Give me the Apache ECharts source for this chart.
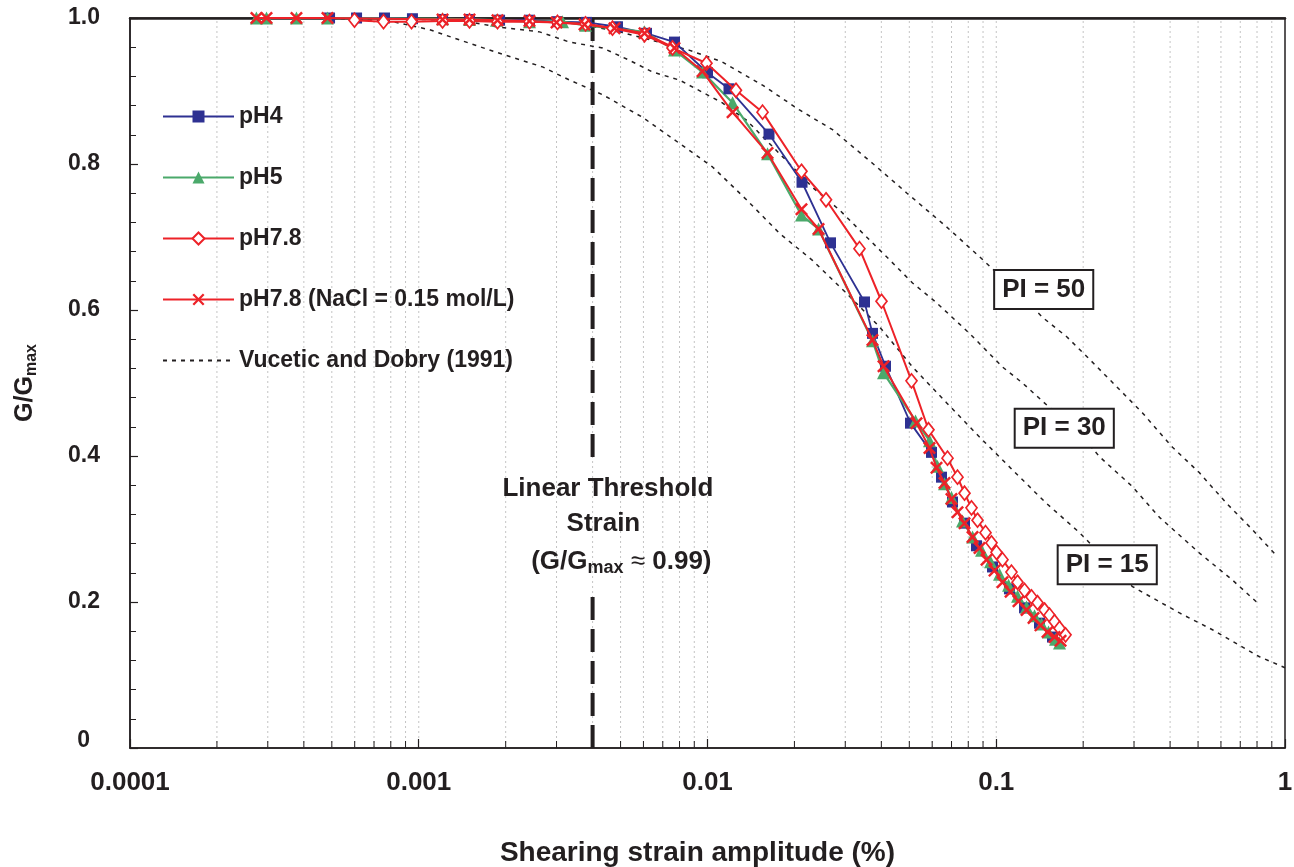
<!DOCTYPE html>
<html><head><meta charset="utf-8">
<script src="https://cdn.jsdelivr.net/npm/echarts@6/dist/echarts.min.js"></script>
<style>html,body{margin:0;padding:0;background:#fff}#c{width:1294px;height:867px}</style>
</head><body><div id="c"></div>
<script>
// ---------- data ----------
const xTickLabels = ['0.0001', '0.001', '0.01', '0.1', '1'];
const yTickLabels = ['0', '0.2', '0.4', '0.6', '0.8', '1.0'];
const seriesNames = ['pH4', 'pH5', 'pH7.8', 'pH7.8 (NaCl = 0.15 mol/L)', 'Vucetic and Dobry (1991)'];
const piLabels = ['PI = 50', 'PI = 30', 'PI = 15'];
const thresholdStrain = 0.004;

// [shear strain amplitude (%), G/Gmax]
const pH4 = [
  [0.000491,1.0],[0.000609,1.0],[0.000761,1.0],[0.000951,0.999],[0.001209,0.998],[0.001499,0.998],
  [0.001905,0.997],[0.002418,0.997],[0.003023,0.995],[0.003811,0.994],[0.004878,0.988],[0.006149,0.979],
  [0.007686,0.967],[0.0100,0.925],[0.01187,0.903],[0.01633,0.841],[0.02125,0.775],[0.02667,0.692],
  [0.03497,0.611],[0.03727,0.568],[0.04135,0.523],[0.05047,0.445],[0.05966,0.405],[0.06461,0.371],
  [0.07055,0.337],[0.07765,0.308],[0.08543,0.277],[0.09705,0.248],[0.1111,0.218],[0.1253,0.192],
  [0.1412,0.171],[0.1566,0.152]
];
const pH5 = [
  [0.000274,1.0],[0.000297,1.0],[0.000377,1.0],[0.000483,1.0],[0.001209,0.999],[0.001499,0.998],
  [0.001859,0.997],[0.002418,0.995],[0.003146,0.995],[0.003781,0.990],[0.006051,0.981],[0.007686,0.956],
  [0.00961,0.926],[0.01221,0.884],[0.01614,0.814],[0.02116,0.730],[0.02424,0.711],[0.03727,0.558],
  [0.0407,0.514],[0.05253,0.448],[0.05872,0.421],[0.06258,0.386],[0.06618,0.362],[0.06998,0.343],
  [0.07641,0.311],[0.08277,0.289],[0.08895,0.271],[0.09552,0.255],[0.1026,0.238],[0.1103,0.223],
  [0.1185,0.208],[0.1273,0.193],[0.1357,0.181],[0.1435,0.170],[0.1517,0.159],[0.1604,0.149],[0.1656,0.144]
];
const pH78 = [
  [0.000599,0.997],[0.000755,0.995],[0.000944,0.995],[0.001209,0.996],[0.001499,0.996],[0.001874,0.995],
  [0.002418,0.995],[0.003023,0.994],[0.003781,0.992],[0.004688,0.986],[0.006051,0.977],[0.007565,0.959],
  [0.00992,0.938],[0.01255,0.901],[0.01551,0.871],[0.02116,0.790],[0.02573,0.751],[0.0336,0.684],
  [0.04005,0.612],[0.05088,0.503],[0.05826,0.436],[0.0678,0.397],[0.07342,0.371],[0.07765,0.349],
  [0.0821,0.329],[0.08613,0.312],[0.0918,0.295],[0.09629,0.281],[0.1002,0.268],[0.1051,0.258],
  [0.1129,0.241],[0.1185,0.227],[0.1253,0.216],[0.1325,0.207],[0.139,0.199],[0.147,0.189],
  [0.1529,0.182],[0.1592,0.173],[0.1656,0.164],[0.1738,0.155]
];
const pH78NaCl = [
  [0.000274,1.0],[0.000297,1.0],[0.000377,1.0],[0.000483,1.0],[0.001209,0.998],[0.001499,0.998],
  [0.001874,0.997],[0.002418,0.996],[0.0030,0.994],[0.00375,0.991],[0.004764,0.986],[0.006051,0.979],
  [0.007686,0.959],[0.00961,0.927],[0.01221,0.871],[0.01614,0.815],[0.02116,0.738],[0.02424,0.711],
  [0.03727,0.559],[0.0407,0.523],[0.05296,0.445],[0.05872,0.411],[0.0621,0.384],[0.06618,0.363],
  [0.06998,0.341],[0.07342,0.323],[0.07765,0.308],[0.08277,0.289],[0.0875,0.274],[0.09254,0.258],
  [0.09863,0.243],[0.1051,0.227],[0.1121,0.214],[0.1194,0.201],[0.1273,0.189],[0.1346,0.178],
  [0.1423,0.168],[0.1505,0.159],[0.1592,0.152],[0.1670,0.147]
];
const vdPI15 = [
  [0.0005,1.0],[0.000811,0.995],[0.00109,0.984],[0.001384,0.970],[0.001859,0.953],[0.002683,0.933],
  [0.003328,0.915],[0.00433,0.895],[0.005955,0.864],[0.00863,0.819],[0.01041,0.796],[0.01365,0.751],
  [0.01776,0.705],[0.0231,0.668],[0.03029,0.623],[0.03941,0.577],[0.05129,0.522],[0.06725,0.473],
  [0.0875,0.426],[0.1138,0.381],[0.1484,0.336],[0.1943,0.295],[0.2964,0.221],[0.4313,0.185],
  [0.5607,0.162],[0.8159,0.125],[1.0,0.11]
];
const vdPI30 = [
  [0.0005,1.0],[0.001006,0.998],[0.001384,0.997],[0.001859,0.988],[0.002619,0.981],[0.003328,0.967],
  [0.00433,0.959],[0.00537,0.942],[0.00645,0.926],[0.0080,0.915],[0.01123,0.884],[0.01365,0.860],
  [0.01819,0.810],[0.0231,0.768],[0.02865,0.737],[0.03639,0.696],[0.04169,0.673],[0.05129,0.637],
  [0.0621,0.610],[0.0808,0.568],[0.1051,0.522],[0.1233,0.500],[0.1523,0.467],[0.1943,0.432],
  [0.2278,0.399],[0.2964,0.358],[0.3676,0.316],[0.5057,0.267],[0.658,0.230],[0.797,0.200]
];
const vdPI50 = [
  [0.0005,1.0],[0.001499,0.998],[0.002418,0.996],[0.003604,0.992],[0.005077,0.980],[0.00863,0.956],
  [0.01123,0.940],[0.01551,0.908],[0.02083,0.874],[0.0271,0.847],[0.03727,0.801],[0.04909,0.760],
  [0.06725,0.714],[0.0875,0.673],[0.1233,0.618],[0.1446,0.590],[0.1758,0.563],[0.2062,0.536],
  [0.2537,0.500],[0.321,0.459],[0.4077,0.412],[0.5057,0.377],[0.6246,0.336],[0.7717,0.299],[0.942,0.262]
];

// ---------- chart ----------
const FONT = '"Liberation Sans", Arial, Helvetica, sans-serif';
const INK = '#231F20';
const BLUE = '#2E3192', GREEN = '#4BA96B', RED = '#ED2228';
const X_PATH = 'path://M0,1.6L1.6,0L6,4.4L10.4,0L12,1.6L7.6,6L12,10.4L10.4,12L6,7.6L1.6,12L0,10.4L4.4,6Z';

// grid line / minor tick positions: 1..9 times each decade
const gridStrains = [];
for (let e = -4; e < 0; e++) for (let m = 1; m <= 9; m++) if (!(e === -4 && m === 1)) gridStrains.push(m * Math.pow(10, e));
const minorStrains = gridStrains.filter(v => Math.abs(Math.log10(v) - Math.round(Math.log10(v))) > 1e-6);

const chart = echarts.init(document.getElementById('c'), null, {renderer: 'canvas'});

function vdSeries(data) {
  return {
    name: seriesNames[4], type: 'line', data: data, symbol: 'none', clip: false, silent: true, z: 2,
    lineStyle: {color: INK, width: 1.5, type: [4, 5]}, itemStyle: {color: INK}
  };
}

const legendData = seriesNames.map((n, i) => i === 4 ? {name: n, itemStyle: {opacity: 0}} : {name: n});

const option = {
  animation: false,
  backgroundColor: '#fff',
  textStyle: {fontFamily: FONT},
  grid: {left: 130, right: 9, top: 18, bottom: 119, show: true, borderColor: INK, borderWidth: 1.5,
    backgroundColor: 'transparent', containLabel: false, outerBoundsMode: 'none'},
  legend: {
    orient: 'vertical', left: 157, top: 100, itemWidth: 71, itemHeight: 15, itemGap: 38,
    data: legendData, selectedMode: false,
    textStyle: {fontFamily: FONT, fontSize: 23, fontWeight: 'bold', color: INK}
  },
  xAxis: [{
    type: 'log', logBase: 10, min: 0.0001, max: 1,
    axisLine: {show: true, lineStyle: {color: INK, width: 1.5}},
    axisTick: {show: true, inside: true, length: 9, lineStyle: {color: INK, width: 1.2}},
    axisLabel: {
      margin: 22, fontFamily: FONT, fontSize: 26, fontWeight: 'bold', color: INK,
      formatter: v => xTickLabels[Math.round(Math.log10(v)) + 4]
    },
    splitLine: {show: false},
    name: 'Shearing strain amplitude (%)', nameLocation: 'middle', nameGap: 91,
    nameTextStyle: {fontFamily: FONT, fontSize: 28, fontWeight: 'bold', color: INK, padding: [0, 20, 0, 0]}
  }, {
    type: 'log', logBase: 10, min: 0.0001, max: 1, position: 'top',
    axisLine: {show: true, lineStyle: {color: INK, width: 2.5}},
    axisTick: {show: false}, axisLabel: {show: false}, splitLine: {show: false}
  }],
  yAxis: {
    type: 'value', min: 0, max: 1, interval: 0.2,
    axisLine: {show: true, lineStyle: {color: INK, width: 1.5}},
    axisTick: {show: true, inside: true, length: 8, lineStyle: {color: INK, width: 1.2}},
    minorTick: {show: true, splitNumber: 5, length: 6, lineStyle: {color: INK, width: 1}},
    axisLabel: {
      margin: 30, fontFamily: FONT, fontSize: 23, fontWeight: 'bold', color: INK,
      formatter: v => { const i = Math.round(v / 0.2); return i === 0 ? '{z|' + yTickLabels[0] + '}' : yTickLabels[i]; },
      rich: {z: {fontFamily: FONT, fontSize: 23, fontWeight: 'bold', color: INK, padding: [0, 10, 14, 0]}}
    },
    splitLine: {show: false},
    name: '{a|G/G}{s|max}', nameLocation: 'middle', nameGap: 90, nameRotate: 90,
    nameTextStyle: {
      color: INK,
      rich: {
        a: {fontFamily: FONT, fontSize: 25, fontWeight: 'bold', color: INK, lineHeight: 30},
        s: {fontFamily: FONT, fontSize: 16, fontWeight: 'bold', color: INK, lineHeight: 12, verticalAlign: 'bottom'}
      }
    }
  },
  series: [
    {
      type: 'custom', name: 'grid', silent: true, z: 0, clip: false,
      data: gridStrains.map(v => [v, 0]), encode: {x: 0, y: 1},
      renderItem: (params, api) => {
        const v = api.value(0);
        const p0 = api.coord([v, 0]), p1 = api.coord([v, 1]);
        return {type: 'line', shape: {x1: p0[0], y1: p0[1], x2: p1[0], y2: p1[1]},
          style: {stroke: '#c4c4c4', lineWidth: 1, lineDash: [2, 3]}};
      }
    },
    {
      type: 'custom', name: 'minorTicks', silent: true, z: 3, clip: false,
      data: minorStrains.map(v => [v, 0]), encode: {x: 0, y: 1},
      renderItem: (params, api) => {
        const v = api.value(0);
        const p0 = api.coord([v, 0]);
        return {type: 'line', shape: {x1: p0[0], y1: p0[1], x2: p0[0], y2: p0[1] - 7},
          style: {stroke: INK, lineWidth: 1}};
      }
    },
    vdSeries(vdPI15), vdSeries(vdPI30), vdSeries(vdPI50),
    {
      type: 'line', name: 'threshold', data: [[thresholdStrain, 1.0], [thresholdStrain, 0.39]],
      symbol: 'none', silent: true, clip: false, z: 3,
      lineStyle: {color: INK, width: 4, type: [23, 9]}
    },
    {
      type: 'line', name: 'threshold2', data: [[thresholdStrain, 0.207], [thresholdStrain, 0]],
      symbol: 'none', silent: true, clip: false, z: 3,
      lineStyle: {color: INK, width: 4, type: [23, 9]}
    },
    {
      name: seriesNames[0], type: 'line', data: pH4, clip: false, z: 5,
      symbol: 'rect', symbolSize: 11,
      itemStyle: {color: BLUE}, lineStyle: {color: BLUE, width: 1.8}
    },
    {
      name: seriesNames[1], type: 'line', data: pH5, clip: false, z: 5,
      symbol: 'triangle', symbolSize: 13,
      itemStyle: {color: GREEN}, lineStyle: {color: GREEN, width: 2.2}
    },
    {
      name: seriesNames[2], type: 'line', data: pH78, clip: false, z: 6,
      symbol: 'diamond', symbolSize: [11, 14],
      itemStyle: {color: '#fff', borderColor: RED, borderWidth: 1.7}, lineStyle: {color: RED, width: 2}
    },
    {
      name: seriesNames[3], type: 'line', data: pH78NaCl, clip: false, z: 6,
      symbol: X_PATH, symbolSize: 13,
      itemStyle: {color: RED}, lineStyle: {color: RED, width: 2}
    }
  ]
};
chart.setOption(option);

// ---------- annotations anchored in data space ----------
function px(x, y) { return chart.convertToPixel({xAxisIndex: 0, yAxisIndex: 0}, [x, y]); }
const annoFont = 'bold 26px ' + FONT;
const boxFont = 'bold 26px ' + FONT;
const t1 = px(0.00452, 0.355), t2 = px(0.00436, 0.307), t3 = px(0.00503, 0.255);
const b50 = px(0.146, 0.628), b30 = px(0.172, 0.438), b15 = px(0.2423, 0.251);
function box(p, text) {
  return {type: 'text', x: p[0], y: p[1], z: 100,
    style: {text: text, font: boxFont, fill: INK, align: 'center', verticalAlign: 'middle',
      backgroundColor: '#fff', borderColor: INK, borderWidth: 2, padding: [6, 7, 5, 7]}};
}
chart.setOption({
  graphic: [
    {type: 'text', x: t1[0], y: t1[1], z: 100, style: {text: 'Linear Threshold', font: annoFont, fill: INK, align: 'center', verticalAlign: 'middle'}},
    {type: 'text', x: t2[0], y: t2[1], z: 100, style: {text: 'Strain', font: annoFont, fill: INK, align: 'center', verticalAlign: 'middle'}},
    {type: 'text', x: t3[0], y: t3[1], z: 100, style: {
      text: '{a|(G/G}{s|max}{b| \u2248 }{a|0.99)}', align: 'center', verticalAlign: 'middle',
      rich: {
        a: {font: annoFont, fill: INK, lineHeight: 30},
        b: {font: '26px ' + FONT, fill: INK, lineHeight: 30},
        s: {font: 'bold 18px ' + FONT, fill: INK, lineHeight: 12, verticalAlign: 'bottom'}
      }}},
    box(b50, piLabels[0]), box(b30, piLabels[1]), box(b15, piLabels[2])
  ]
});
</script>
</body></html>
